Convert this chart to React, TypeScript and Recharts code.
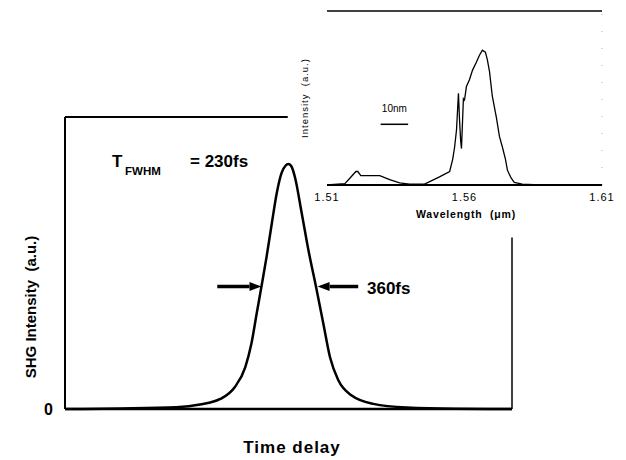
import { LineChart, Line, XAxis, YAxis, ReferenceLine } from 'recharts';

// main autocorrelation trace (time delay in fs, normalised SHG intensity)
const TIME_FS = [-1475, -1100, -740, -585, -450, -355, -285, -245, -210, -177, -145, -110, -78, -45, -20, 0, 20, 43, 87, 131, 182, 230, 274, 329, 417, 560, 780, 1100, 1475];
const SHG = [0, 0.002, 0.007, 0.018, 0.041, 0.089, 0.171, 0.266, 0.39, 0.505, 0.62, 0.758, 0.88, 0.965, 0.993, 1, 0.99, 0.945, 0.8, 0.65, 0.498, 0.348, 0.211, 0.117, 0.055, 0.021, 0.006, 0.001, 0];

// inset spectrum (wavelength in um, normalised intensity)
const WAVELENGTH = [1.51, 1.5165, 1.5183, 1.5205, 1.5212, 1.5223, 1.5256, 1.5292, 1.5328, 1.5364, 1.54, 1.5455, 1.5509, 1.5546, 1.5557, 1.5564, 1.5571, 1.5578, 1.5582, 1.5586, 1.5589, 1.5593, 1.5596, 1.56, 1.5607, 1.5618, 1.5629, 1.5643, 1.5654, 1.5665, 1.5676, 1.5683, 1.5691, 1.5701, 1.5716, 1.5727, 1.5738, 1.5749, 1.5756, 1.577, 1.5781, 1.581, 1.5872, 1.61];
const SPECTRUM = [0, 0.01, 0.05, 0.1, 0.1, 0.07, 0.07, 0.07, 0.04, 0.015, 0.007, 0.007, 0.06, 0.1, 0.19, 0.28, 0.41, 0.68, 0.48, 0.33, 0.27, 0.48, 0.64, 0.63, 0.73, 0.78, 0.85, 0.91, 0.96, 1, 0.985, 0.93, 0.84, 0.66, 0.5, 0.36, 0.28, 0.19, 0.11, 0.05, 0.02, 0.007, 0, 0];
const WL_TICKS = [1.51, 1.56, 1.61];

const FWHM_FS = 360;
const T_MIN = -1475;
const T_MAX = 1475;
const Y_MAX = 1.192;
const INSET_Y_MAX = 1.29;

const mainData = TIME_FS.map((t, i) => ({ t, v: SHG[i] }));
const specData = WAVELENGTH.map((w, i) => ({ w, v: SPECTRUM[i] }));

const FONT = "'Liberation Sans', Arial, Helvetica, sans-serif";

const Arrow = (p: any) => {
  const { x1, y1, x2, y2 } = p;
  const dir = x2 > x1 ? 1 : -1;
  const len = 12;
  const hw = 4.5;
  return (
    <g>
      <line x1={x1} y1={y1} x2={x2 - dir * len} y2={y2} stroke="#000" strokeWidth={3.5} />
      <polygon points={`${x2},${y2} ${x2 - dir * len},${y2 - hw} ${x2 - dir * len},${y2 + hw}`} fill="#000" />
    </g>
  );
};

const txt = (left: number, top: number, size: number, extra: any = {}) => ({
  position: 'absolute' as const, left, top, fontSize: size, lineHeight: `${size}px`,
  fontFamily: FONT, fontWeight: 'bold' as const, color: '#000', whiteSpace: 'pre' as const, ...extra,
});

export default function App() {
  return (
    <div style={{ position: 'absolute', left: 0, top: 0, width: 626, height: 460, background: '#fff', overflow: 'hidden', fontFamily: FONT }}>
      <LineChart width={626} height={460} data={mainData} margin={{ top: 117, right: 114, bottom: 21, left: 0 }}>
        <XAxis dataKey="t" type="number" domain={[T_MIN, T_MAX]} ticks={[]} tick={false} tickLine={false}
          axisLine={{ stroke: '#000', strokeWidth: 2.5 }} height={30} />
        <YAxis type="number" domain={[0, Y_MAX]} ticks={[0]} width={65} tickLine={false} tickMargin={6}
          axisLine={{ stroke: '#000', strokeWidth: 2 }}
          tick={{ fontSize: 16, fontWeight: 'bold', fill: '#000', fontFamily: FONT }} />
        {/* box: top edge stops short of the inset, right edge starts below it */}
        <ReferenceLine segment={[{ x: T_MIN, y: Y_MAX }, { x: -5, y: Y_MAX }]} stroke="#000" strokeWidth={2} />
        <ReferenceLine segment={[{ x: T_MAX, y: 0.7 }, { x: T_MAX, y: 0 }]} stroke="#000" strokeWidth={1.5} />
        <ReferenceLine segment={[{ x: -FWHM_FS / 2 - 290, y: 0.5 }, { x: -FWHM_FS / 2 + 2, y: 0.5 }]} shape={Arrow} />
        <ReferenceLine segment={[{ x: FWHM_FS / 2 + 280, y: 0.5 }, { x: FWHM_FS / 2 + 12, y: 0.5 }]} shape={Arrow} />
        <Line dataKey="v" type="monotone" stroke="#000" strokeWidth={2.5} dot={false} isAnimationActive={false} />
      </LineChart>

      <div style={txt(112, 153, 17)}>T</div>
      <div style={txt(125, 166, 11.5)}>FWHM</div>
      <div style={txt(190, 153, 17)}>= 230fs</div>
      <div style={txt(367, 280, 17)}>360fs</div>
      <div style={txt(292, 439, 17, { transform: 'translateX(-50%)', letterSpacing: 1 })}>Time delay</div>
      <div style={txt(30, 307, 15, { transform: 'translate(-50%, -50%) rotate(-90deg)' })}>SHG Intensity  (a.u.)</div>

      <div style={{ position: 'absolute', left: 290, top: 0, width: 336, height: 236 }}>
        <LineChart width={336} height={236} data={specData} margin={{ top: 11, right: 24, bottom: 21, left: 37 }}>
          <XAxis dataKey="w" type="number" domain={[1.51, 1.61]} ticks={WL_TICKS} tickLine={false} height={30}
            axisLine={{ stroke: '#000', strokeWidth: 2 }} tickFormatter={(v: number) => v.toFixed(2)}
            tick={{ fontSize: 11, fill: '#000', fontFamily: FONT, letterSpacing: 1 }} />
          <YAxis type="number" domain={[0, INSET_Y_MAX]} hide />
          <ReferenceLine y={INSET_Y_MAX} stroke="#000" strokeWidth={1.5} />
          <ReferenceLine x={1.61} stroke="#aaa" strokeWidth={1} strokeDasharray="1 16" />
          <ReferenceLine segment={[{ x: 1.5295, y: 0.45 }, { x: 1.5395, y: 0.45 }]} stroke="#000" strokeWidth={1.5}
            label={{ value: '10nm', position: 'top', offset: 12, fontSize: 10, fill: '#000', fontFamily: FONT }} />
          <Line dataKey="v" type="linear" stroke="#000" strokeWidth={1.3} dot={false} isAnimationActive={false} />
        </LineChart>
        <div style={txt(176, 214, 10.5, { transform: 'translate(-50%, -50%)', letterSpacing: 0.8 })}>Wavelength  (μm)</div>
        <div style={txt(15, 98, 9.5, { transform: 'translate(-50%, -50%) rotate(-90deg)', fontWeight: 'normal', letterSpacing: 1 })}>Intensity  (a.u.)</div>
      </div>
    </div>
  );
}
